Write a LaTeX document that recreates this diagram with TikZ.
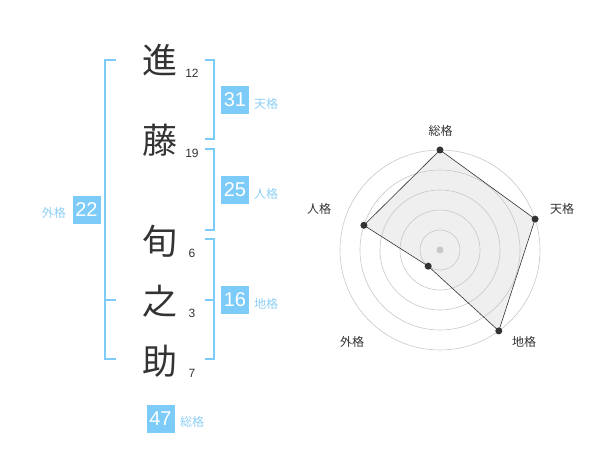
\documentclass[tikz,border=0pt]{standalone}
\usepackage{fontspec}
\setmainfont{Liberation Sans}
\newfontfamily\cjk{Noto Sans CJK JP}
\definecolor{sky}{HTML}{7DCBF8}
\definecolor{skytext}{HTML}{8DCFF6}
\definecolor{ink}{HTML}{333333}
\definecolor{ring}{HTML}{C8C8C8}
\definecolor{area}{HTML}{EFEFEF}
\begin{document}
\begin{tikzpicture}[x=1pt,y=-1pt,
  kanji/.style={font=\cjk\fontsize{35}{35}\selectfont, text=ink, inner sep=0pt},
  strokes/.style={font=\fontsize{12}{12}\selectfont, text=ink, inner sep=0pt},
  valbox/.style={fill=sky, text=white, font=\fontsize{20}{20}\selectfont, minimum width=28pt, minimum height=28pt, inner sep=0pt},
  kaku/.style={font=\cjk\fontsize{12}{12}\selectfont, text=skytext, inner sep=0pt},
  brk/.style={draw=sky, line width=2pt},
  axislabel/.style={font=\cjk\fontsize{12}{12}\selectfont, text=ink, inner sep=0pt},
  dot/.style={circle, fill=ink, inner sep=0pt, minimum size=7pt},
]
\useasboundingbox (0,0) rectangle (600,470);
% name characters
\node[kanji] (k1) at (160,60) {進};
\node[kanji] (k2) at (160,140) {藤};
\node[kanji] (k3) at (160,241) {旬};
\node[kanji] (k4) at (160,301) {之};
\node[kanji] (k5) at (160,361) {助};
\node[strokes] (s1) at (192,73) {12};
\node[strokes] (s2) at (192,153) {19};
\node[strokes] (s3) at (192,253) {6};
\node[strokes] (s4) at (192,313) {3};
\node[strokes] (s5) at (192,373) {7};
% brackets
\draw[brk] (116,60) -- (105,60) -- (105,359) -- (116,359);
\draw[brk] (105,300) -- (116,300);
\draw[brk] (205,60) -- (214,60) -- (214,139) -- (205,139);
\draw[brk] (205,149) -- (214,149) -- (214,230) -- (205,230);
\draw[brk] (205,239) -- (214,239) -- (214,359) -- (205,359);
\draw[brk] (205,300) -- (214,300);
% values
\node[valbox] (v22) at (86.5,210) {22};
\node[kaku, anchor=east] (l22) at (66,213) {外格};
\node[valbox] (v31) at (235,100) {31};
\node[kaku, anchor=west] (l31) at (254,104) {天格};
\node[valbox] (v25) at (235,190) {25};
\node[kaku, anchor=west] (l25) at (254,194) {人格};
\node[valbox] (v16) at (235,300) {16};
\node[kaku, anchor=west] (l16) at (254,304) {地格};
\node[valbox] (v47) at (160.5,419) {47};
\node[kaku, anchor=west] (l47) at (180,422) {総格};
% radar
\coordinate (c) at (440,250);
\coordinate (pS) at (440,150);
\coordinate (pT) at (535.1,219.1);
\coordinate (pC) at (498.8,330.9);
\coordinate (pG) at (428.2,266.2);
\coordinate (pJ) at (363.9,225.3);
\fill[area] (pS) -- (pT) -- (pC) -- (pG) -- (pJ) -- cycle;
\foreach \r in {20,40,60,80,100} \draw[ring, line width=0.6pt] (c) circle[radius=\r];
\fill[ring] (c) circle[radius=3.5];
\draw[ink, line width=0.6pt] (pS) -- (pT) -- (pC) -- (pG) -- (pJ) -- cycle;
\foreach \p in {pS,pT,pC,pG,pJ} \node[dot] at (\p) {};
\node[axislabel] (aS) at (440.7,131) {総格};
\node[axislabel] (aT) at (562,209) {天格};
\node[axislabel] (aJ) at (319,209) {人格};
\node[axislabel] (aG) at (352,342) {外格};
\node[axislabel] (aC) at (524,342) {地格};
\end{tikzpicture}
\end{document}
